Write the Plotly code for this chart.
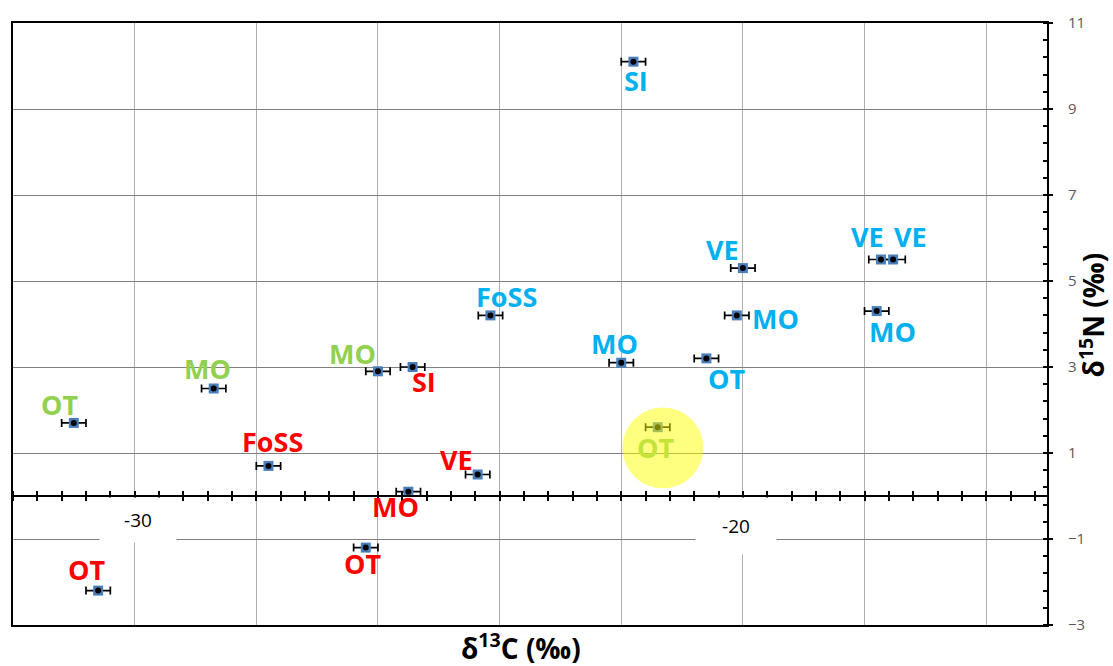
import plotly.graph_objects as go

# ---------------- data ----------------
labels = ["OT", "MO", "FoSS", "MO", "SI", "OT", "OT", "MO", "VE", "FoSS",
          "SI", "MO", "OT", "OT", "MO", "VE", "MO", "VE", "VE"]
groups = ["green", "green", "red", "green", "red", "red", "red", "red", "red", "blue",
          "blue", "blue", "green", "blue", "blue", "blue", "blue", "blue", "blue"]
d13C = [-31.0, -28.7, -27.8, -26.0, -25.43, -26.2, -30.6, -25.5, -24.36, -24.15,
        -21.8, -22.0, -21.4, -20.6, -20.1, -20.0, -17.8, -17.73, -17.53]
d15N = [1.7, 2.5, 0.7, 2.9, 3.0, -1.2, -2.2, 0.1, 0.5, 4.2,
        10.1, 3.1, 1.6, 3.2, 4.2, 5.3, 4.3, 5.5, 5.5]
d13C_err = [0.2] * len(d13C)

x_tick_labels = ["-30", "-20"]
x_tick_vals = [-30, -20]
highlight_index = 12  # the OT point circled in yellow

# ---------------- styles ----------------
colors = {"green": "#92d050", "red": "#ff0000", "blue": "#00b0f0"}
# label offsets from their point, in pixels (dx right, dy up)
label_dx = [-14, -6, 4, -25, 11, -3, -12, -13, -21, 16, 3, -7, -2, 20, 39, -20, 16, -13, 17]
label_dy = [18, 20, 24, 18, -14, -16, 21, -15, 15, 19, -19, 19, -20, -20, -3, 19, -20, 23, 23]

fig = go.Figure()

# squares + error bars on the main x axis (frame / gridlines)
fig.add_trace(go.Scatter(
    x=d13C, y=d15N, xaxis="x", yaxis="y", mode="markers",
    marker=dict(symbol="square", size=10, color="#4a7ebb", line=dict(width=0)),
    error_x=dict(type="data", array=d13C_err, visible=True, color="black",
                 thickness=1.7, width=4),
    showlegend=False, hoverinfo="skip"))
# black dots on the zero-crossing x axis (same range)
fig.add_trace(go.Scatter(
    x=d13C, y=d15N, xaxis="x2", yaxis="y", mode="markers",
    marker=dict(symbol="circle", size=6, color="black", line=dict(width=0)),
    showlegend=False, hoverinfo="skip"))

annotations = []
for i, (lab, g, xv, yv) in enumerate(zip(labels, groups, d13C, d15N)):
    col = colors[g]
    if i == highlight_index:
        col = "#c3e33a"
    annotations.append(dict(
        x=xv, y=yv, xref="x", yref="y", text="<b>%s</b>" % lab, showarrow=False,
        xshift=label_dx[i], yshift=label_dy[i],
        font=dict(family="Open Sans", size=27, color=col)))

# x tick labels in white boxes
box_w = [74, 78]
box_h = [42, 54]
box_dx = [3, -7]
box_dy = [-24, -30]
for v, t, w, h, dx, dy in zip(x_tick_vals, x_tick_labels, box_w, box_h, box_dx, box_dy):
    annotations.append(dict(
        x=v, y=0, xref="x", yref="y", text=t, showarrow=False,
        xshift=dx, yshift=dy, width=w, height=h, bgcolor="white",
        font=dict(family="Open Sans", size=19, color="black")))

# axis titles
annotations.append(dict(
    x=0.491, y=-0.036, xref="paper", yref="paper", text="<b>δ<sup>13</sup>C (‰)</b>",
    showarrow=False, xanchor="center", yanchor="middle",
    font=dict(family="Open Sans", size=28, color="black")))
annotations.append(dict(
    x=1.044, y=0.515, xref="paper", yref="paper", text="<b>δ<sup>15</sup>N (‰)</b>",
    showarrow=False, xanchor="center", yanchor="middle", textangle=-90,
    font=dict(family="Open Sans", size=28, color="black")))

hx, hy = d13C[highlight_index], d15N[highlight_index]
shapes = [dict(type="circle", xref="x", yref="y",
               x0=hx - 0.58, x1=hx + 0.75, y0=hy - 1.42, y1=hy + 0.46,
               fillcolor="rgba(255,255,0,0.5)", line=dict(width=0), layer="above")]

fig.update_layout(
    width=1113, height=666,
    margin=dict(l=11, r=66, t=23, b=41),
    paper_bgcolor="white", plot_bgcolor="white",
    font=dict(family="Open Sans"),
    xaxis=dict(range=[-32, -15], tick0=-32, dtick=2, showgrid=True,
               gridcolor="#b0b0b0", gridwidth=1, showticklabels=False, ticks="",
               showline=True, linecolor="black", linewidth=2, mirror=True,
               zeroline=False, fixedrange=True),
    xaxis2=dict(range=[-32, -15], overlaying="x", anchor="free", position=3 / 14,
                tick0=-32, dtick=0.4, ticks="outside", ticklen=4, tickwidth=1.5,
                tickcolor="black", showticklabels=False, showgrid=False,
                showline=True, linecolor="black", linewidth=1.8, zeroline=False,
                minor=dict(tick0=-32.0001, dtick=0.4, ticks="inside", ticklen=4,
                           tickwidth=1.5, tickcolor="black", showgrid=False)),
    yaxis=dict(range=[-3, 11], tick0=-3, dtick=2, side="right", showgrid=True,
               gridcolor="#808080", gridwidth=1.2, ticks="outside", ticklen=4,
               tickwidth=1.5, tickcolor="black", showline=True, linecolor="black",
               linewidth=2, mirror=True, zeroline=False,
               tickfont=dict(family="Open Sans", size=15, color="#595959"),
               ticklabelstandoff=12,
               minor=dict(tick0=-3.0001, dtick=0.4, ticks="inside", ticklen=4,
                          tickwidth=1.5, tickcolor="black", showgrid=False)),
    annotations=annotations,
    shapes=shapes,
)

fig.write_html("out.html")
